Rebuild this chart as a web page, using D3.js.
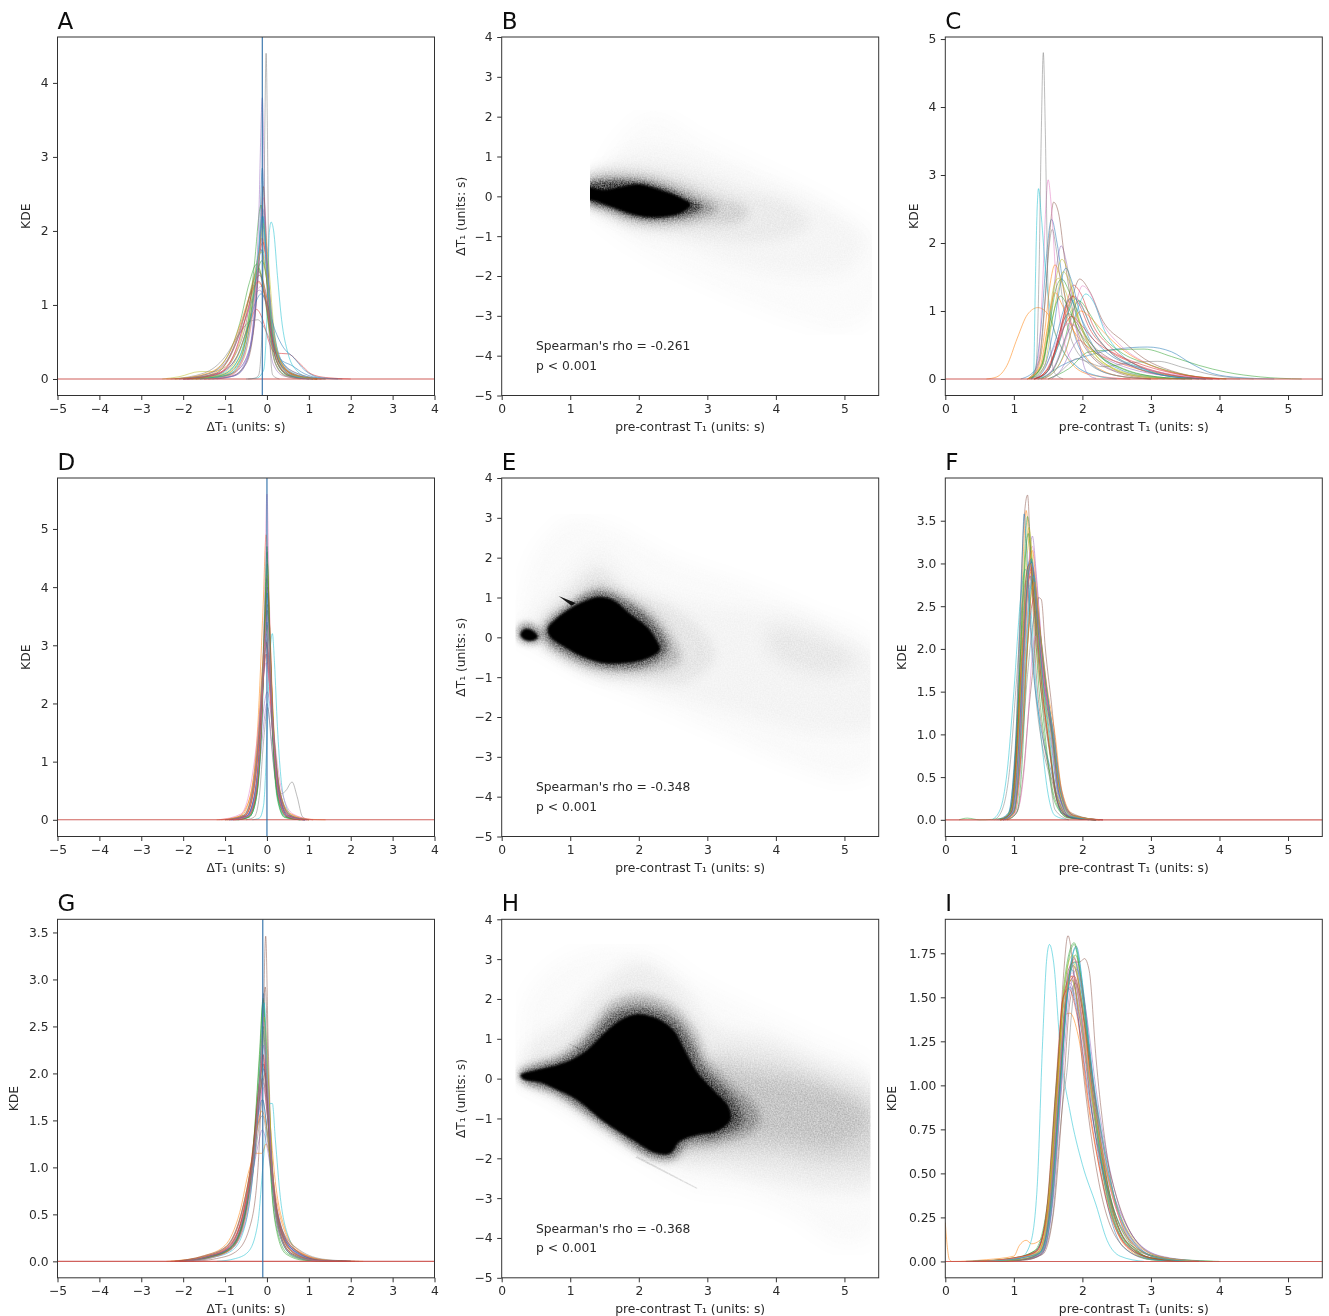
<!DOCTYPE html>
<html>
<head>
<meta charset="utf-8">
<script src="https://d3js.org/d3.v7.min.js"></script>
<style>
  html, body { margin: 0; padding: 0; background: #fff; }
  text { font-family: "DejaVu Sans", sans-serif; fill: #2a2a2a; }
</style>
</head>
<body>
<svg id="chart" width="1329" height="1316"></svg>
<script>
// tick labels
var deltaTicks = [-5, -4, -3, -2, -1, 0, 1, 2, 3, 4];
var t1Ticks = [0, 1, 2, 3, 4, 5];
var scatterYTicks = [4, 3, 2, 1, 0, -1, -2, -3, -4, -5];
var kdeTicksA = [0, 1, 2, 3, 4];
var kdeTicksC = [0, 1, 2, 3, 4, 5];
var kdeTicksD = [0, 1, 2, 3, 4, 5];
var kdeTicksF = [0, 0.5, 1, 1.5, 2, 2.5, 3, 3.5];
var kdeTicksG = [0, 0.5, 1, 1.5, 2, 2.5, 3, 3.5];
var kdeTicksI = [0, 0.25, 0.5, 0.75, 1, 1.25, 1.5, 1.75];

var tab10 = ["#1f77b4", "#ff7f0e", "#2ca02c", "#d62728", "#9467bd", "#8c564b", "#e377c2", "#7f7f7f", "#bcbd22", "#17becf"];

// KDE curves, one [x, y] list per subject. order sets the colour (tab10 cycle)
var curvesA = [
  [[-2,0],[-1.2,.02],[-.75,.1],[-.45,.35],[-.28,.9],[-.18,1.9],[-.11,2.85],[-.05,2.1],[.02,1.1],[.12,.55],[.3,.28],[.6,.18],[.9,.07],[1.3,.01],[1.8,0]],
  [[-2.4,0],[-1.5,.04],[-1,.2],[-.7,.55],[-.45,1.05],[-.3,1.35],[-.2,1.45],[-.08,1.3],[.05,.75],[.2,.3],[.45,.08],[.9,.01],[1.4,0]],
  [[-1.8,0],[-1.1,.05],[-.7,.25],[-.45,.75],[-.3,1.55],[-.14,2.35],[-.04,1.7],[.07,.7],[.2,.22],[.45,.05],[1,0]],
  [[-2,0],[-1.5,.02],[-1,.12],[-.7,.32],[-.45,.7],[-.25,.94],[-.1,.8],[.05,.5],[.2,.35],[.5,.34],[.8,.2],[1.05,.07],[1.4,.02],[2,0]],
  [[-1.4,0],[-.8,.04],[-.5,.25],[-.32,.8],[-.2,2.1],[-.11,3.8],[-.05,2.3],[.03,.8],[.15,.2],[.4,.04],[.9,0]],
  [[-2,0],[-1.2,.06],[-.8,.28],[-.5,.75],[-.3,1.4],[-.15,1.75],[-.02,1.4],[.1,.75],[.28,.25],[.55,.06],[1.1,0]],
  [[-1.6,0],[-.9,.05],[-.55,.22],[-.32,.65],[-.18,1.6],[-.08,2.45],[.02,1.6],[.12,.6],[.3,.15],[.6,.03],[1.1,0]],
  [[-.45,0],[-.3,.01],[-.2,.05],[-.12,.6],[-.08,1.8],[-.05,3.4],[-.02,4.4],[.01,3.4],[.04,1.6],[.08,.4],[.14,.05],[.3,0]],
  [[-2.5,0],[-2.1,.03],[-1.6,.1],[-1.3,.1],[-1,.16],[-.6,.6],[-.35,1.3],[-.2,1.5],[-.05,1.1],[.15,.3],[.4,.05],[.8,0]],
  [[-.5,0],[-.25,.01],[-.08,.12],[.01,1],[.06,2],[.1,2.12],[.16,2],[.25,1.4],[.35,.8],[.5,.35],[.7,.12],[1,.02],[1.4,0]],
  [[-1.3,0],[-.8,.04],[-.5,.22],[-.3,.8],[-.18,1.65],[-.1,2.2],[-.02,1.7],[.1,.75],[.25,.25],[.5,.06],[1,0]],
  [[-1.7,0],[-1,.06],[-.62,.3],[-.38,.9],[-.22,1.55],[-.12,1.9],[0,1.5],[.12,.7],[.3,.2],[.6,.04],[1.2,0]],
  [[-2.2,0],[-1.4,.07],[-.95,.3],[-.65,.75],[-.42,1.3],[-.25,1.55],[-.1,1.3],[.05,.7],[.22,.25],[.5,.05],[1.1,0]],
  [[-1.5,0],[-.9,.06],[-.58,.28],[-.35,.95],[-.2,1.6],[-.1,1.85],[0,1.55],[.13,.78],[.3,.25],[.65,.05],[1.2,0]],
  [[-2.1,0],[-1.3,.09],[-.85,.35],[-.55,.75],[-.32,1.1],[-.18,1.2],[-.04,1.05],[.12,.6],[.32,.27],[.7,.08],[1.3,0]],
  [[-1.4,0],[-.85,.04],[-.5,.2],[-.3,.75],[-.17,1.8],[-.09,2.6],[-.01,1.8],[.1,.65],[.28,.18],[.6,.03],[1.1,0]],
  [[-2,0],[-1.2,.07],[-.8,.32],[-.52,.8],[-.3,1.15],[-.13,1.25],[.02,1.05],[.18,.55],[.42,.17],[.8,.03],[1.3,0]],
  [[-2.3,0],[-1.5,.08],[-1,.3],[-.65,.62],[-.4,.78],[-.22,.8],[-.05,.68],[.15,.42],[.4,.2],[.8,.06],[1.4,0]],
  [[-1.5,0],[-.9,.05],[-.55,.28],[-.33,.95],[-.18,1.7],[-.08,2.1],[.03,1.6],[.16,.72],[.34,.22],[.7,.04],[1.2,0]],
  [[-1.6,0],[-1,.07],[-.62,.35],[-.38,1],[-.22,1.55],[-.12,1.75],[0,1.45],[.14,.75],[.32,.28],[.7,.06],[1.3,0]],
  [[-1.9,0],[-1.2,.05],[-.72,.3],[-.45,.72],[-.26,1.05],[-.14,1.15],[0,1.02],[.18,.68],[.4,.42],[.62,.3],[.9,.12],[1.25,.02],[1.7,0]],
  [[-2.2,0],[-1.4,.08],[-.9,.35],[-.6,.8],[-.36,1.2],[-.2,1.3],[-.04,1.12],[.13,.6],[.35,.2],[.75,.04],[1.3,0]],
  [[-1.7,0],[-1,.05],[-.62,.28],[-.4,.85],[-.24,1.4],[-.12,1.6],[.01,1.28],[.14,.62],[.32,.2],[.7,.04],[1.2,0]],
  [[-1.9,0],[-1.15,.08],[-.75,.38],[-.5,.85],[-.32,1.22],[-.2,1.32],[-.06,1.14],[.1,.6],[.3,.22],[.65,.06],[1.2,0]],
  [[-1.2,0],[-.7,.06],[-.45,.3],[-.28,1],[-.18,1.8],[-.1,2.3],[-.02,1.75],[.08,.7],[.22,.18],[.5,.03],[1,0]],
  [[-2,0],[-1.2,.08],[-.85,.36],[-.55,.85],[-.33,1.25],[-.18,1.4],[-.03,1.18],[.12,.62],[.32,.2],[.7,.04],[1.2,0]],
  [[-1.5,0],[-.85,.05],[-.55,.3],[-.32,.95],[-.2,1.6],[-.1,1.9],[0,1.5],[.12,.75],[.3,.24],[.62,.05],[1.1,0]],
  [[-2.1,0],[-1.3,.06],[-.88,.3],[-.6,.72],[-.38,1.2],[-.22,1.48],[-.08,1.22],[.08,.72],[.28,.3],[.6,.08],[1.2,0]],
  [[-1.8,0],[-1.1,.06],[-.7,.3],[-.42,.88],[-.25,1.5],[-.14,1.72],[-.02,1.42],[.12,.72],[.3,.26],[.66,.05],[1.2,0]],
  [[-1.6,0],[-.95,.05],[-.6,.28],[-.36,.9],[-.2,1.75],[-.11,2.2],[-.02,1.72],[.1,.8],[.28,.26],[.6,.04],[1.1,0]]
];

var curvesC = [
  [[1.1,0],[1.3,.12],[1.4,.8],[1.48,1.85],[1.55,2.35],[1.63,2],[1.74,1.25],[1.9,.6],[2.15,.2],[2.5,.05],[3,0]],
  [[.6,0],[.75,.03],[.9,.2],[1.05,.6],[1.2,.95],[1.35,1.05],[1.5,.95],[1.65,.55],[1.8,.28],[2,.1],[2.3,.03],[2.7,0]],
  [[1.5,0],[1.8,.15],[2.1,.4],[2.5,.43],[2.9,.44],[3.3,.33],[3.7,.2],[4.1,.1],[4.6,.03],[5.2,0]],
  [[1.3,0],[1.5,.12],[1.65,.6],[1.78,1.15],[1.87,1.38],[1.98,1.25],[2.15,.8],[2.4,.48],[2.8,.2],[3.3,.05],[3.9,0]],
  [[1.2,0],[1.42,.2],[1.55,1.05],[1.63,1.7],[1.69,1.96],[1.76,1.75],[1.86,1.15],[2,.6],[2.25,.25],[2.7,.06],[3.2,0]],
  [[1.2,0],[1.36,.25],[1.45,1.1],[1.52,2.1],[1.58,2.6],[1.65,2.45],[1.75,1.7],[1.88,.9],[2.08,.4],[2.5,.1],[3,0]],
  [[1.25,0],[1.35,.25],[1.42,1.4],[1.47,2.6],[1.5,2.93],[1.55,2.5],[1.62,1.4],[1.72,.6],[1.9,.2],[2.2,.05],[2.7,0]],
  [[1.24,0],[1.32,.15],[1.37,1.7],[1.4,3.6],[1.43,4.8],[1.46,3.6],[1.49,1.7],[1.54,.4],[1.6,.08],[1.72,0]],
  [[1.25,0],[1.42,.2],[1.52,.85],[1.62,1.5],[1.7,1.76],[1.8,1.55],[1.92,1],[2.1,.5],[2.4,.18],[2.8,.04],[3.3,0]],
  [[1.27,0],[1.29,.1],[1.31,1.2],[1.34,2.5],[1.36,2.8],[1.4,2.4],[1.47,1.5],[1.55,.9],[1.7,.45],[1.9,.2],[2.2,.05],[2.5,0]],
  [[1.4,0],[1.7,.2],[2.1,.35],[2.5,.44],[2.95,.47],[3.3,.4],[3.6,.22],[3.9,.08],[4.3,.02],[4.8,0]],
  [[1.2,0],[1.35,.15],[1.45,.7],[1.53,1.4],[1.6,1.68],[1.68,1.5],[1.8,.95],[1.98,.45],[2.3,.12],[2.7,.02],[3.1,0]],
  [[1.25,0],[1.42,.25],[1.53,.85],[1.62,1.35],[1.7,1.47],[1.8,1.3],[1.95,.85],[2.2,.42],[2.6,.14],[3.1,.03],[3.6,0]],
  [[1.3,0],[1.5,.12],[1.65,.55],[1.77,1],[1.87,1.22],[1.97,1.12],[2.12,.78],[2.35,.45],[2.7,.2],[3.2,.05],[3.8,0]],
  [[1.55,0],[1.7,.15],[1.85,.45],[1.95,.57],[2.05,.5],[2.3,.32],[2.7,.15],[3.2,.05],[3.8,0]],
  [[1.3,0],[1.5,.15],[1.7,.65],[1.85,1.2],[1.96,1.47],[2.1,1.3],[2.3,.85],[2.6,.55],[2.9,.3],[3.3,.12],[3.8,.02],[4.3,0]],
  [[1.35,0],[1.55,.12],[1.75,.55],[1.9,1.1],[2,1.37],[2.12,1.25],[2.28,.85],[2.55,.5],[2.9,.25],[3.4,.07],[4,0]],
  [[1.25,0],[1.38,.3],[1.46,1.2],[1.52,2],[1.56,2.2],[1.62,1.9],[1.72,1.1],[1.85,.55],[2.1,.22],[2.5,.05],[3,0]],
  [[1.2,0],[1.4,.2],[1.5,.8],[1.58,1.35],[1.65,1.48],[1.75,1.3],[1.9,.82],[2.1,.42],[2.45,.15],[2.9,.03],[3.4,0]],
  [[1.4,0],[1.6,.12],[1.78,.5],[1.92,1],[2.05,1.25],[2.17,1.12],[2.32,.72],[2.55,.38],[2.9,.15],[3.4,.03],[3.9,0]],
  [[1.25,0],[1.45,.2],[1.58,.75],[1.68,1.4],[1.76,1.63],[1.84,1.45],[1.98,.9],[2.2,.42],[2.55,.14],[3,.03],[3.5,0]],
  [[1.2,0],[1.38,.18],[1.48,.7],[1.55,1.12],[1.6,1.27],[1.7,1.1],[1.85,.75],[2.1,.45],[2.5,.25],[3,.1],[3.7,0]],
  [[1.35,0],[1.55,.1],[1.72,.5],[1.86,1],[1.95,1.15],[2.08,1],[2.28,.65],[2.55,.4],[2.95,.22],[3.5,.06],[4.1,0]],
  [[1.3,0],[1.5,.15],[1.65,.6],[1.78,1.1],[1.85,1.22],[1.95,1.1],[2.1,.75],[2.35,.45],[2.7,.25],[3.2,.08],[3.8,0]],
  [[1.45,0],[1.6,.2],[1.75,.6],[1.88,.8],[1.95,.55],[2.02,.2],[2.1,.05],[2.2,.01]],
  [[1.3,0],[1.5,.12],[1.62,.5],[1.72,.85],[1.8,.96],[1.9,.85],[2.1,.55],[2.4,.3],[2.8,.18],[3.3,.06],[3.9,0]],
  [[1.25,0],[1.42,.12],[1.56,.4],[1.7,.72],[1.82,.82],[1.95,.7],[2.15,.45],[2.45,.27],[2.95,.14],[3.5,.04],[4,0]],
  [[1.5,0],[1.65,.08],[1.8,.22],[1.92,.3],[2.05,.26],[2.3,.18],[2.7,.24],[3.1,.26],[3.5,.16],[3.95,.05],[4.5,0]],
  [[1.28,0],[1.45,.2],[1.55,.8],[1.65,1.32],[1.72,1.58],[1.82,1.4],[1.95,.85],[2.15,.42],[2.5,.14],[3,.03],[3.5,0]],
  [[1.35,0],[1.5,.12],[1.65,.5],[1.8,1],[1.9,1.18],[2,1.05],[2.15,.72],[2.4,.4],[2.8,.18],[3.2,.05],[3.8,0]],
  [[1.3,0],[1.45,.15],[1.6,.55],[1.74,1.05],[1.82,1.18],[1.92,1.02],[2.08,.7],[2.32,.42],[2.7,.2],[3.15,.06],[3.7,0]],
  [[1.4,0],[1.58,.1],[1.76,.42],[1.9,.9],[1.98,1],[2.1,.92],[2.3,.7],[2.6,.42],[3,.2],[3.5,.06],[4.1,0]],
  [[1.22,0],[1.4,.18],[1.52,.7],[1.62,1.12],[1.68,1.22],[1.78,1.08],[1.94,.72],[2.2,.38],[2.6,.15],[3.1,.03],[3.6,0]],
  [[1.3,0],[1.48,.14],[1.62,.46],[1.74,.78],[1.84,.92],[1.96,.82],[2.16,.58],[2.5,.36],[2.9,.2],[3.4,.07],[4,0]]
];

var curvesD = [
  [[-.9,0],[-.5,.06],[-.3,.4],[-.15,1.6],[-.06,3.4],[0,4.15],[.06,3.2],[.15,1.4],[.3,.32],[.5,.05],[.9,0]],
  [[-1.2,0],[-.7,.05],[-.42,.35],[-.22,1.6],[-.09,3.7],[-.02,4.9],[.05,3.7],[.16,1.6],[.32,.42],[.55,.1],[1,.01],[1.4,0]],
  [[-.7,0],[-.42,.05],[-.25,.4],[-.13,1.7],[-.05,3.7],[0,4.7],[.05,3.6],[.13,1.6],[.25,.35],[.42,.04],[.8,0]],
  [[-.95,0],[-.52,.07],[-.32,.5],[-.18,1.55],[-.08,2.75],[-.03,3.1],[.03,2.65],[.14,1.4],[.3,.35],[.5,.05],[.9,0]],
  [[-.8,0],[-.48,.05],[-.28,.35],[-.15,1.1],[-.06,1.75],[0,2],[.06,1.72],[.16,.95],[.32,.25],[.55,.03],[.9,0]],
  [[-.8,0],[-.48,.06],[-.28,.42],[-.14,1.55],[-.05,3.05],[.01,3.7],[.07,2.95],[.16,1.4],[.3,.35],[.5,.06],[.9,0]],
  [[-.85,0],[-.5,.05],[-.3,.32],[-.16,1.25],[-.06,3.7],[0,5.6],[.06,3.7],[.16,1.3],[.3,.3],[.52,.05],[.9,0]],
  [[-.5,0],[-.3,.05],[-.18,.42],[-.08,1.35],[.02,1.93],[.1,1.35],[.2,.7],[.35,.45],[.45,.5],[.6,.65],[.72,.4],[.85,.05],[1,0]],
  [[-1,0],[-.55,.08],[-.35,.5],[-.2,1.45],[-.08,2.9],[0,3.35],[.08,2.75],[.18,1.4],[.34,.4],[.56,.08],[1,0]],
  [[-.35,0],[-.18,.03],[-.08,.25],[-.01,1.2],[.06,2.7],[.13,3.2],[.18,2.7],[.25,1.6],[.33,.75],[.45,.25],[.62,.05],[.9,0]],
  [[-.85,0],[-.5,.06],[-.3,.38],[-.16,1.4],[-.06,3.1],[0,3.9],[.06,3.05],[.15,1.38],[.3,.34],[.5,.06],[.9,0]],
  [[-1.1,0],[-.6,.08],[-.38,.48],[-.22,1.4],[-.1,2.7],[-.02,3.3],[.05,2.7],[.16,1.45],[.32,.45],[.58,.1],[1.1,0]],
  [[-.75,0],[-.44,.05],[-.26,.4],[-.14,1.5],[-.05,3.4],[.01,4.4],[.06,3.4],[.14,1.5],[.27,.36],[.46,.05],[.8,0]],
  [[-1,0],[-.55,.07],[-.34,.48],[-.19,1.42],[-.08,2.45],[-.02,2.85],[.05,2.4],[.15,1.4],[.3,.42],[.52,.07],[.95,0]],
  [[-.9,0],[-.5,.06],[-.3,.42],[-.16,1.3],[-.07,1.95],[.01,2.2],[.08,1.9],[.18,1.1],[.34,.32],[.55,.05],[.95,0]],
  [[-.8,0],[-.46,.06],[-.27,.42],[-.14,1.6],[-.05,3],[.01,3.6],[.07,2.95],[.16,1.5],[.3,.42],[.5,.08],[.9,0]],
  [[-1.15,0],[-.62,.1],[-.4,.55],[-.24,1.35],[-.1,2.35],[-.02,2.7],[.06,2.35],[.18,1.4],[.36,.48],[.62,.1],[1.1,0]],
  [[-.75,0],[-.45,.06],[-.28,.45],[-.15,1.55],[-.06,3],[0,3.6],[.06,3],[.15,1.55],[.28,.45],[.46,.08],[.85,0]],
  [[-.95,0],[-.52,.08],[-.33,.5],[-.18,1.45],[-.07,2.85],[0,3.35],[.07,2.8],[.17,1.45],[.32,.45],[.55,.08],[1,0]],
  [[-.7,0],[-.42,.05],[-.25,.38],[-.13,1.45],[-.05,3.1],[.01,3.9],[.06,3.1],[.14,1.45],[.26,.36],[.44,.05],[.8,0]],
  [[-.85,0],[-.48,.06],[-.3,.42],[-.16,1.4],[-.06,2.8],[0,3.4],[.06,2.8],[.16,1.4],[.3,.4],[.5,.06],[.9,0]],
  [[-.8,0],[-.46,.05],[-.27,.36],[-.15,1.3],[-.05,3.2],[.01,4.2],[.07,3.2],[.16,1.3],[.29,.34],[.48,.05],[.85,0]],
  [[-.7,0],[-.42,.05],[-.25,.4],[-.13,1.6],[-.05,3.5],[0,4.6],[.05,3.5],[.13,1.6],[.25,.4],[.42,.05],[.8,0]],
  [[-.9,0],[-.52,.07],[-.32,.46],[-.18,1.38],[-.07,2.6],[-.01,3.05],[.06,2.6],[.17,1.38],[.32,.42],[.55,.07],[1,0]],
  [[-.9,0],[-.54,.08],[-.34,.52],[-.2,1.4],[-.09,2.7],[-.02,3.2],[.05,2.7],[.16,1.42],[.31,.44],[.54,.08],[.95,0]],
  [[-.75,0],[-.44,.06],[-.26,.44],[-.14,1.58],[-.05,3.3],[.01,4],[.07,3.2],[.15,1.5],[.28,.4],[.46,.06],[.85,0]],
  [[-.8,0],[-.46,.06],[-.28,.42],[-.15,1.48],[-.06,2.95],[0,3.5],[.06,2.95],[.15,1.5],[.28,.42],[.47,.07],[.85,0]],
  [[-1,0],[-.56,.08],[-.35,.5],[-.2,1.46],[-.08,2.6],[-.01,3],[.06,2.55],[.17,1.42],[.33,.44],[.56,.08],[1,0]]
];

var curvesF = [
  [[.75,0],[.92,.08],[1.02,.75],[1.1,1.9],[1.18,2.85],[1.25,3.05],[1.32,2.5],[1.42,1.5],[1.54,.72],[1.66,.15],[1.85,.02],[2.2,0]],
  [[.8,0],[.96,.1],[1.04,.8],[1.1,2.2],[1.15,3.3],[1.18,3.62],[1.24,3],[1.34,1.9],[1.48,1.1],[1.62,.3],[1.8,.03],[2.2,0]],
  [[.2,0],[.32,.02],[.5,0],[.85,.02],[.98,.2],[1.06,1.2],[1.14,2.8],[1.2,3.55],[1.26,3],[1.36,1.6],[1.48,.75],[1.6,.2],[1.8,.02],[2.2,0]],
  [[.8,0],[.94,.08],[1.03,.7],[1.12,1.9],[1.2,2.7],[1.26,2.95],[1.33,2.45],[1.44,1.65],[1.56,1],[1.66,.3],[1.82,.03],[2.3,0]],
  [[.85,0],[1,.08],[1.08,.75],[1.16,2.1],[1.23,3.1],[1.27,3.32],[1.33,2.85],[1.42,1.9],[1.54,1.15],[1.66,.38],[1.82,.08],[1.98,.02],[2.3,0]],
  [[.8,0],[.94,.06],[1.02,.75],[1.08,2.2],[1.14,3.4],[1.2,3.8],[1.24,3.2],[1.32,1.8],[1.42,1],[1.56,.45],[1.72,.06],[2.1,0]],
  [[.85,0],[.98,.08],[1.07,.7],[1.15,2],[1.22,3],[1.27,3.2],[1.33,2.8],[1.42,1.9],[1.53,1.1],[1.65,.32],[1.85,.03],[2.2,0]],
  [[.85,0],[1,.1],[1.1,.7],[1.2,1.7],[1.28,2.3],[1.33,2.45],[1.4,2.1],[1.5,1.4],[1.6,.75],[1.7,.2],[1.88,.03],[2.3,0]],
  [[.8,0],[.96,.08],[1.04,.7],[1.12,2.2],[1.18,3.2],[1.22,3.42],[1.28,2.95],[1.38,1.8],[1.5,.95],[1.62,.25],[1.8,.03],[2.2,0]],
  [[.68,0],[.8,.12],[.9,.55],[1,1.5],[1.1,2.6],[1.17,2.93],[1.24,2.55],[1.32,1.6],[1.42,.8],[1.5,.3],[1.6,.05],[1.8,0]],
  [[.85,0],[1,.08],[1.08,.7],[1.15,2],[1.22,2.9],[1.26,3.06],[1.32,2.65],[1.42,1.65],[1.54,.92],[1.64,.3],[1.8,.03],[2.2,0]],
  [[.82,0],[.98,.1],[1.06,.75],[1.14,1.95],[1.21,2.75],[1.25,2.9],[1.32,2.45],[1.44,1.65],[1.56,.95],[1.67,.35],[1.85,.04],[2.25,0]],
  [[.8,0],[.94,.08],[1.02,.72],[1.1,2],[1.17,3.1],[1.21,3.35],[1.27,2.85],[1.37,1.75],[1.48,.82],[1.6,.24],[1.78,.03],[2.2,0]],
  [[.85,0],[1,.1],[1.1,.75],[1.18,1.85],[1.26,2.5],[1.3,2.6],[1.36,2.3],[1.46,1.55],[1.58,1],[1.68,.32],[1.85,.05],[2.3,0]],
  [[.88,0],[1.02,.08],[1.1,.6],[1.17,1.65],[1.24,2.7],[1.28,2.95],[1.34,2.55],[1.44,1.7],[1.56,1],[1.66,.3],[1.85,.06],[2.2,0]],
  [[.9,0],[1.05,.1],[1.14,.55],[1.22,1.3],[1.3,1.95],[1.36,2.6],[1.4,2.58],[1.46,2],[1.55,1.35],[1.66,.5],[1.8,.1],[2.2,0]],
  [[.9,0],[1.05,.1],[1.14,.5],[1.2,1.1],[1.26,1.85],[1.31,2.15],[1.36,1.95],[1.44,1.55],[1.54,1.2],[1.66,.45],[1.85,.06],[2.2,0]],
  [[.72,0],[.84,.14],[.94,.6],[1.04,1.65],[1.12,2.5],[1.18,2.8],[1.24,2.35],[1.32,1.45],[1.42,.85],[1.52,.5],[1.6,.12],[1.8,0]],
  [[.82,0],[.97,.08],[1.05,.7],[1.13,2],[1.19,3.05],[1.23,3.3],[1.29,2.75],[1.38,1.85],[1.5,1.08],[1.62,.32],[1.82,.04],[2.2,0]],
  [[.85,0],[.98,.08],[1.06,.72],[1.14,2],[1.2,2.9],[1.25,3.05],[1.31,2.55],[1.4,1.7],[1.52,.95],[1.62,.26],[1.8,.03],[2.2,0]],
  [[.78,0],[.93,.08],[1,.6],[1.07,1.7],[1.12,3],[1.15,3.58],[1.19,3.1],[1.26,2],[1.38,1.15],[1.55,.55],[1.7,.08],[2.1,0]],
  [[.85,0],[1,.08],[1.08,.72],[1.16,2],[1.22,2.95],[1.27,3.15],[1.33,2.7],[1.43,1.8],[1.55,1.12],[1.67,.35],[1.85,.05],[2.2,0]],
  [[.9,0],[1.04,.08],[1.12,.65],[1.18,1.7],[1.25,2.65],[1.29,2.82],[1.35,2.4],[1.45,1.7],[1.56,1.05],[1.68,.36],[1.85,.06],[2.25,0]],
  [[.8,0],[.96,.08],[1.04,.75],[1.12,2],[1.2,2.95],[1.24,3],[1.3,2.55],[1.41,1.55],[1.52,.85],[1.63,.22],[1.8,.03],[2.2,0]],
  [[.85,0],[.98,.1],[1.07,.75],[1.14,1.95],[1.21,2.85],[1.26,2.98],[1.32,2.6],[1.42,1.72],[1.54,1.02],[1.65,.3],[1.82,.04],[2.2,0]],
  [[.82,0],[.96,.08],[1.04,.7],[1.12,1.85],[1.19,2.7],[1.24,2.85],[1.3,2.45],[1.4,1.5],[1.52,.8],[1.64,.25],[1.82,.03],[2.2,0]],
  [[.84,0],[.98,.1],[1.06,.72],[1.14,1.9],[1.21,2.8],[1.26,3],[1.33,2.5],[1.44,1.68],[1.57,1.05],[1.68,.38],[1.85,.05],[2.25,0]],
  [[.86,0],[1,.1],[1.08,.7],[1.16,1.85],[1.23,2.75],[1.28,2.92],[1.35,2.42],[1.46,1.62],[1.58,1],[1.7,.34],[1.86,.05],[2.25,0]],
  [[.8,0],[.96,.1],[1.05,.75],[1.13,2],[1.2,2.85],[1.25,3],[1.31,2.55],[1.42,1.6],[1.55,.98],[1.66,.34],[1.84,.04],[2.2,0]],
  [[.85,0],[1,.1],[1.09,.72],[1.17,1.88],[1.24,2.7],[1.29,2.86],[1.36,2.36],[1.47,1.6],[1.58,.98],[1.69,.3],[1.84,.04],[2.2,0]],
  [[.82,0],[.97,.1],[1.06,.74],[1.14,1.96],[1.2,2.8],[1.26,3.02],[1.32,2.52],[1.43,1.6],[1.56,.98],[1.66,.3],[1.83,.03],[2.2,0]],
  [[.88,0],[1.02,.1],[1.1,.72],[1.18,1.8],[1.25,2.6],[1.3,2.78],[1.37,2.3],[1.48,1.58],[1.6,1],[1.7,.34],[1.88,.05],[2.25,0]]
];

var curvesG = [
  [[-2.2,0],[-1.4,.04],[-.85,.13],[-.5,.55],[-.3,1.25],[-.16,2.15],[-.08,2.85],[-.01,2.1],[.12,1],[.32,.4],[.62,.12],[1.1,.02],[1.8,0]],
  [[-2.4,0],[-1.5,.05],[-1,.14],[-.62,.5],[-.4,.98],[-.24,1.55],[-.03,2],[.06,1.55],[.2,.85],[.42,.36],[.75,.12],[1.3,.02],[2,0]],
  [[-2.1,0],[-1.4,.05],[-.9,.14],[-.54,.5],[-.32,1.25],[-.18,2.2],[-.09,2.8],[-.02,2.1],[.08,1],[.22,.35],[.45,.08],[.9,.01],[1.6,0]],
  [[-2.2,0],[-1.5,.04],[-.95,.14],[-.58,.5],[-.36,1.1],[-.2,1.8],[-.1,2.2],[-.01,1.7],[.12,.9],[.3,.32],[.6,.08],[1.1,.01],[1.7,0]],
  [[-2,0],[-1.4,.05],[-.9,.12],[-.52,.4],[-.32,1],[-.18,1.85],[-.09,2.45],[-.01,1.9],[.12,.85],[.32,.25],[.65,.05],[1.2,0]],
  [[-1.8,0],[-1.2,.03],[-.75,.1],[-.42,.35],[-.22,.95],[-.1,2.3],[-.03,3.46],[.03,2.3],[.14,.85],[.3,.3],[.6,.08],[1.2,.01],[1.9,0]],
  [[-2,0],[-1.3,.05],[-.85,.14],[-.52,.45],[-.32,.98],[-.19,1.55],[-.08,1.9],[.02,1.5],[.16,.8],[.36,.28],[.72,.08],[1.3,.01],[2,0]],
  [[-2.1,0],[-1.4,.06],[-.9,.16],[-.56,.5],[-.34,.95],[-.2,1.4],[-.1,1.72],[0,1.4],[.14,.82],[.36,.32],[.72,.1],[1.3,.01],[2,0]],
  [[-2,0],[-1.3,.05],[-.85,.13],[-.52,.45],[-.3,1.1],[-.14,2],[-.05,2.5],[.03,1.95],[.14,.95],[.34,.32],[.68,.08],[1.2,.01],[1.9,0]],
  [[-1.2,0],[-.75,.03],[-.45,.1],[-.22,.4],[-.08,1.1],[.02,1.55],[.08,1.68],[.13,1.68],[.2,1.3],[.32,.68],[.5,.28],[.8,.08],[1.4,.01],[2,0]],
  [[-2.1,0],[-1.4,.05],[-.88,.14],[-.55,.48],[-.34,1.05],[-.2,1.58],[-.11,1.72],[0,1.42],[.14,.78],[.34,.32],[.7,.1],[1.3,.01],[2,0]],
  [[-2.3,0],[-1.5,.06],[-1,.17],[-.65,.52],[-.42,.98],[-.26,1.15],[-.12,1.15],[-.02,1.25],[.06,1.15],[.2,.72],[.44,.3],[.85,.08],[1.5,.01],[2.3,0]],
  [[-1.9,0],[-1.3,.05],[-.85,.14],[-.52,.48],[-.32,1.25],[-.17,2.2],[-.09,2.78],[-.02,2.2],[.08,1.05],[.24,.34],[.5,.08],[1,.01],[1.6,0]],
  [[-2,0],[-1.35,.04],[-.88,.13],[-.54,.46],[-.34,1.1],[-.18,1.9],[-.08,2.1],[.02,1.68],[.15,.88],[.32,.32],[.66,.08],[1.2,.01],[1.9,0]],
  [[-2.1,0],[-1.5,.05],[-1,.13],[-.6,.44],[-.38,.85],[-.22,1.22],[-.11,1.4],[.01,1.2],[.16,.75],[.38,.32],[.76,.1],[1.4,.01],[2.1,0]],
  [[-2,0],[-1.4,.05],[-.9,.14],[-.54,.48],[-.32,1.1],[-.16,1.95],[-.04,2.92],[.03,2],[.12,1],[.3,.32],[.6,.08],[1.1,.01],[1.8,0]],
  [[-2.2,0],[-1.5,.05],[-.95,.15],[-.6,.5],[-.36,1],[-.2,1.6],[-.09,1.85],[.02,1.5],[.16,.84],[.36,.32],[.72,.1],[1.3,.01],[2,0]],
  [[-2.3,0],[-1.6,.04],[-1,.15],[-.62,.5],[-.38,1],[-.22,1.45],[-.1,1.55],[0,1.32],[.14,.8],[.36,.34],[.78,.12],[1.4,.02],[2.2,0]],
  [[-2,0],[-1.3,.04],[-.86,.14],[-.52,.5],[-.3,1.22],[-.15,2.05],[-.06,2.6],[.02,2.02],[.14,.95],[.32,.34],[.65,.08],[1.2,.01],[1.8,0]],
  [[-1.9,0],[-1.3,.04],[-.82,.12],[-.5,.42],[-.3,1.1],[-.15,2.1],[-.07,2.75],[0,2.1],[.1,1.05],[.28,.34],[.56,.08],[1.1,.01],[1.7,0]],
  [[-2.1,0],[-1.4,.05],[-.88,.14],[-.54,.46],[-.32,1.02],[-.18,1.7],[-.08,2.05],[.02,1.65],[.15,.85],[.36,.3],[.72,.09],[1.3,.01],[2,0]],
  [[-2.2,0],[-1.5,.05],[-.95,.15],[-.6,.46],[-.38,.96],[-.24,1.4],[-.12,1.6],[0,1.4],[.15,.8],[.36,.32],[.76,.1],[1.4,.01],[2.1,0]],
  [[-2,0],[-1.35,.05],[-.88,.14],[-.53,.5],[-.3,1.2],[-.17,2],[-.09,2.5],[-.01,1.9],[.1,1],[.28,.34],[.56,.08],[1.1,.01],[1.8,0]],
  [[-2.1,0],[-1.4,.05],[-.9,.15],[-.56,.52],[-.34,1.1],[-.19,1.8],[-.09,2.2],[0,1.75],[.13,.9],[.32,.34],[.66,.09],[1.2,.01],[1.9,0]],
  [[-2,0],[-1.4,.05],[-.9,.15],[-.55,.5],[-.33,1.12],[-.18,1.85],[-.08,2.3],[.01,1.8],[.14,.9],[.34,.32],[.68,.09],[1.2,.01],[1.9,0]],
  [[-2.2,0],[-1.5,.06],[-.96,.16],[-.6,.52],[-.37,1.05],[-.21,1.62],[-.1,1.95],[.01,1.55],[.15,.82],[.36,.33],[.74,.1],[1.3,.01],[2,0]],
  [[-1.9,0],[-1.3,.04],[-.84,.13],[-.51,.46],[-.3,1.16],[-.16,2],[-.08,2.55],[0,2],[.11,1],[.28,.33],[.58,.08],[1.1,.01],[1.7,0]],
  [[-2,0],[-1.4,.05],[-.9,.14],[-.56,.48],[-.34,1.04],[-.2,1.72],[-.1,2.1],[0,1.7],[.13,.88],[.33,.3],[.66,.08],[1.2,.01],[1.9,0]]
];

var curvesI = [
  [[.3,0],[.9,.01],[1.3,.05],[1.5,.3],[1.62,.95],[1.74,1.5],[1.84,1.66],[1.96,1.45],[2.14,.85],[2.36,.33],[2.6,.08],[3,.01],[3.6,0]],
  [[0,.22],[.03,.08],[.06,.01],[.1,0],[.6,.01],[1,.03],[1.08,.09],[1.18,.12],[1.26,.1],[1.38,.12],[1.5,.3],[1.62,.85],[1.74,1.4],[1.82,1.41],[1.94,1.28],[2.12,.8],[2.34,.38],[2.6,.1],[3,.01],[3.6,0]],
  [[.3,0],[.9,.01],[1.3,.06],[1.48,.3],[1.62,1.02],[1.74,1.6],[1.88,1.81],[2,1.55],[2.16,.9],[2.4,.3],[2.7,.08],[3.2,.02],[3.9,0]],
  [[.4,0],[1,.02],[1.32,.06],[1.5,.3],[1.62,.9],[1.72,1.5],[1.84,1.62],[1.96,1.38],[2.14,.85],[2.38,.35],[2.66,.08],[3.1,.01],[3.7,0]],
  [[.5,0],[1,.01],[1.32,.04],[1.52,.3],[1.66,.95],[1.78,1.5],[1.88,1.72],[2,1.5],[2.18,.96],[2.42,.42],[2.7,.14],[3.05,.03],[3.6,0]],
  [[.6,0],[1.1,.01],[1.4,.05],[1.54,.36],[1.64,1.05],[1.72,1.6],[1.79,1.85],[1.88,1.62],[2.02,1.05],[2.24,.45],[2.52,.12],[2.9,.02],[3.4,0]],
  [[.6,0],[1.1,.01],[1.38,.05],[1.54,.33],[1.68,1],[1.78,1.6],[1.88,1.73],[1.98,1.5],[2.14,1],[2.36,.42],[2.64,.12],[3,.02],[3.5,0]],
  [[.6,0],[1.1,.02],[1.38,.06],[1.54,.3],[1.66,.95],[1.76,1.5],[1.84,1.6],[1.96,1.42],[2.14,.9],[2.38,.38],[2.66,.1],[3,.02],[3.6,0]],
  [[.5,0],[1.05,.02],[1.36,.06],[1.52,.3],[1.66,.98],[1.78,1.55],[1.86,1.7],[1.98,1.5],[2.14,.95],[2.36,.38],[2.64,.1],[3,.01],[3.5,0]],
  [[.8,0],[1.1,.02],[1.24,.1],[1.34,.42],[1.42,1.25],[1.48,1.72],[1.52,1.8],[1.58,1.7],[1.68,1.2],[1.82,.85],[2,.55],[2.2,.32],[2.36,.12],[2.55,.03],[2.9,0]],
  [[.7,0],[1.1,.01],[1.4,.04],[1.56,.33],[1.68,1.02],[1.8,1.6],[1.91,1.79],[2.02,1.52],[2.18,.95],[2.4,.38],[2.66,.1],[3.05,.01],[3.6,0]],
  [[.6,0],[1.1,.02],[1.36,.05],[1.52,.3],[1.66,1],[1.76,1.5],[1.86,1.68],[1.98,1.5],[2.14,1],[2.36,.45],[2.64,.14],[3.1,.02],[3.7,0]],
  [[.4,0],[1,.02],[1.34,.07],[1.5,.36],[1.62,1],[1.74,1.55],[1.88,1.8],[1.98,1.58],[2.14,.98],[2.38,.38],[2.68,.1],[3.2,.02],[4,0]],
  [[.6,0],[1.1,.01],[1.4,.05],[1.54,.32],[1.66,.9],[1.76,1.5],[1.88,1.62],[2,1.42],[2.16,.92],[2.38,.4],[2.62,.12],[3,.02],[3.5,0]],
  [[.3,0],[.9,.01],[1.3,.05],[1.5,.28],[1.62,.85],[1.74,1.4],[1.82,1.58],[1.94,1.42],[2.12,1],[2.38,.48],[2.68,.18],[3.05,.04],[3.6,0]],
  [[.7,0],[1.2,.01],[1.42,.05],[1.56,.34],[1.7,1.05],[1.79,1.65],[1.88,1.7],[1.96,1.7],[2.03,1.72],[2.1,1.65],[2.2,1.15],[2.4,.5],[2.65,.14],[3,.02],[3.5,0]],
  [[.6,0],[1.1,.01],[1.4,.05],[1.54,.3],[1.66,.85],[1.76,1.4],[1.88,1.72],[2,1.55],[2.14,1.05],[2.36,.5],[2.62,.18],[3,.03],[3.6,0]],
  [[.8,0],[1.2,.01],[1.4,.04],[1.56,.24],[1.66,.68],[1.72,.92],[1.78,1.1],[1.84,1.4],[1.9,1.6],[1.98,1.42],[2.14,.92],[2.36,.4],[2.62,.12],[3,.02],[3.5,0]],
  [[.5,0],[1,.02],[1.34,.05],[1.5,.28],[1.62,.9],[1.74,1.58],[1.86,1.74],[1.98,1.5],[2.14,.95],[2.36,.42],[2.62,.12],[3,.02],[3.6,0]],
  [[.7,0],[1.1,.01],[1.4,.05],[1.56,.34],[1.7,1.1],[1.8,1.58],[1.9,1.78],[2,1.58],[2.14,1],[2.34,.42],[2.6,.12],[3,.01],[3.5,0]],
  [[.6,0],[1.1,.02],[1.38,.05],[1.52,.3],[1.64,.9],[1.74,1.42],[1.82,1.56],[1.92,1.42],[2.08,.98],[2.32,.48],[2.62,.16],[3.1,.02],[3.7,0]],
  [[.5,0],[1.05,.02],[1.34,.06],[1.5,.33],[1.62,.95],[1.74,1.52],[1.86,1.62],[1.98,1.42],[2.16,.92],[2.42,.4],[2.7,.12],[3.1,.02],[3.6,0]],
  [[.6,0],[1.1,.01],[1.38,.05],[1.54,.33],[1.68,1.05],[1.8,1.6],[1.9,1.74],[2,1.55],[2.16,.98],[2.38,.42],[2.66,.12],[3,.02],[3.6,0]],
  [[.5,0],[1,.02],[1.34,.06],[1.48,.3],[1.6,.92],[1.72,1.5],[1.8,1.55],[1.92,1.4],[2.1,.88],[2.34,.36],[2.62,.1],[3,.02],[3.5,0]],
  [[.6,0],[1.1,.01],[1.4,.04],[1.56,.3],[1.7,1],[1.82,1.54],[1.92,1.66],[2.04,1.45],[2.22,.92],[2.46,.42],[2.74,.14],[3.15,.03],[3.8,0]],
  [[.7,0],[1.15,.01],[1.42,.04],[1.58,.28],[1.72,.95],[1.82,1.48],[1.9,1.58],[2.02,1.38],[2.2,.9],[2.46,.42],[2.74,.14],[3.1,.03],[3.7,0]],
  [[.5,0],[1.05,.02],[1.36,.05],[1.52,.3],[1.64,.92],[1.76,1.5],[1.85,1.64],[1.97,1.44],[2.15,.94],[2.4,.42],[2.7,.14],[3.1,.03],[3.7,0]],
  [[.6,0],[1.1,.01],[1.38,.05],[1.53,.32],[1.67,.98],[1.78,1.52],[1.87,1.68],[1.99,1.48],[2.17,.96],[2.42,.44],[2.7,.14],[3.1,.02],[3.6,0]],
  [[.5,0],[1.05,.01],[1.36,.05],[1.5,.3],[1.63,.94],[1.74,1.46],[1.84,1.6],[1.96,1.4],[2.14,.94],[2.4,.44],[2.7,.15],[3.1,.03],[3.7,0]],
  [[.6,0],[1.1,.02],[1.38,.05],[1.54,.32],[1.68,1],[1.8,1.58],[1.89,1.7],[2,1.5],[2.18,.98],[2.42,.44],[2.7,.13],[3.1,.02],[3.6,0]]
];

// grey density bands of the scatter panels, [x, y] outlines, outer band first
var bandsB = [
  { op: .015, blur: 9, pts: [[1.32,.3],[1.7,1.5],[2.2,2.1],[3,1.4],[4,.6],[5,-.3],[5.5,-1],[5.5,-2.8],[5,-3.4],[4.4,-3.2],[3.6,-2.7],[2.8,-2.1],[2.1,-1.5],[1.5,-.8],[1.2,-.3]] },
  { op: .025, blur: 8, pts: [[1.32,.35],[1.7,1],[2.2,1.25],[2.8,1],[3.6,.5],[4.4,0],[5,-.6],[5.3,-1.2],[5,-1.9],[4.2,-2],[3.4,-1.7],[2.6,-1.2],[2,-.95],[1.6,-.6],[1.2,-.25]] },
  { op: .04, blur: 6, pts: [[1.2,.6],[2,.8],[2.8,.55],[3.5,.15],[4.2,-.2],[4.5,-.7],[4,-1.1],[3.2,-1.1],[2.5,-.95],[1.9,-.8],[1.5,-.5],[1.2,-.2]] },
  { op: .1, blur: 5, pts: [[1.2,.5],[1.9,.62],[2.5,.42],[3.1,.02],[3.6,-.33],[3.5,-.62],[2.9,-.72],[2.3,-.78],[1.8,-.65],[1.45,-.35],[1.2,-.15]] },
  { op: .28, blur: 4, pts: [[1.2,.34],[1.9,.46],[2.4,.28],[2.9,-.06],[3.15,-.3],[2.95,-.48],[2.5,-.62],[2,-.6],[1.6,-.38],[1.2,-.12]] },
  { op: .5, blur: 2.5, pts: [[1.2,.26],[1.9,.38],[2.35,.22],[2.7,-.06],[2.92,-.26],[2.7,-.47],[2.25,-.58],[1.9,-.5],[1.6,-.32],[1.2,-.06]] },
  { op: 1, blur: 1.2, pts: [[1.2,.22],[1.5,.17],[1.75,.25],[2,.31],[2.3,.17],[2.6,-.02],[2.76,-.2],[2.6,-.43],[2.2,-.53],[1.9,-.45],[1.6,-.27],[1.4,-.14],[1.2,-.03]] }
];

var bandsE = [
  { op: .018, blur: 9, pts: [[.25,.8],[.5,2.2],[1,3],[1.6,2.8],[2.5,2],[3.5,1.4],[4.5,.7],[5.5,-.2],[5.5,-3.2],[5,-3.6],[4.2,-3.2],[3.4,-2.6],[2.6,-2],[1.8,-1.4],[1.1,-.9],[.5,-.3],[.2,0]] },
  { op: .025, blur: 8, pts: [[.5,.7],[.8,1.3],[1.4,2.2],[2,1.4],[2.8,.9],[3.6,.7],[4.3,.6],[5,0],[5.5,-.6],[5.5,-2.2],[4.6,-2.4],[3.6,-2],[2.8,-1.6],[2,-1.2],[1.4,-1],[.9,-.6],[.5,-.15],[.2,.1]] },
  { op: .05, blur: 9, pts: [[3.9,.2],[4.4,.1],[4.9,-.25],[5.2,-.6],[4.8,-.9],[4.2,-.7],[3.9,-.3]] },
  { op: .06, blur: 6, pts: [[.6,.5],[1,1.2],[1.4,1.7],[1.8,1.2],[2.4,.8],[2.9,.2],[3.1,-.5],[2.7,-1.1],[2,-1.1],[1.4,-1],[.9,-.55],[.55,-.1]] },
  { op: .2, blur: 5, pts: [[.6,.3],[1,.85],[1.4,1.28],[1.85,1],[2.3,.45],[2.55,-.2],[2.6,-.6],[2.2,-.85],[1.5,-.85],[1,-.6],[.6,-.1]] },
  { op: .4, blur: 3, pts: [[.22,.1],[.3,.34],[.45,.32],[.6,.05],[.5,-.14],[.3,-.12]] },
  { op: .45, blur: 3, pts: [[.64,.25],[1,.82],[1.42,1.14],[1.75,.95],[2.2,.4],[2.42,-.3],[2.15,-.68],[1.5,-.75],[1,-.45],[.66,-.05]] },
  { op: 1, blur: 1.2, pts: [[.27,.07],[.33,.21],[.42,.2],[.53,.02],[.47,-.08],[.33,-.06]] },
  { op: 1, blur: 1.2, pts: [[.67,.23],[.8,.48],[1,.73],[1.19,.9],[1.41,1.02],[1.63,.94],[1.87,.6],[2.12,.27],[2.26,-.07],[2.31,-.32],[2.07,-.57],[1.78,-.65],[1.48,-.65],[1.19,-.5],[.95,-.28],[.7,.02]] },
  { op: .9, blur: .5, straight: true, pts: [[.83,1.04],[1.08,.86],[1.02,.79]] }
];

var bandsH = [
  { op: .02, blur: 10, pts: [[.25,.3],[.35,2],[.8,2.9],[1.5,3.3],[2.2,3.2],[2.9,2.4],[3.6,1.8],[4.6,1],[5.5,.1],[5.5,-3.8],[5,-4.2],[4.2,-3.4],[3.5,-2.9],[2.8,-2.75],[2,-2],[1.3,-1.2],[.7,-.5],[.25,-.05]] },
  { op: .05, blur: 8, pts: [[.25,.25],[.45,.9],[.9,1.4],[1.4,2.3],[2,2.9],[2.6,2.3],[3.1,1.3],[3.9,1],[4.6,.5],[5.5,-.2],[5.5,-2.6],[4.8,-2.8],[4,-2.6],[3.2,-2.3],[2.6,-2.15],[2.3,-2.02],[1.7,-1.5],[1,-.7],[.5,-.25],[.25,-.02]] },
  { op: .07, blur: 8, pts: [[3,.6],[3.4,.6],[4.2,.35],[5,-.2],[5.5,-.7],[5.5,-2],[4.8,-2.2],[4,-2],[3.2,-1.9],[2.6,-1.9],[2.7,-.5]] },
  { op: .1, blur: 9, pts: [[3,.3],[3.6,.1],[4.4,-.1],[5.2,-.6],[5.38,-1.2],[4.9,-1.7],[4,-1.55],[3.2,-1.6],[2.7,-1.5],[2.8,-.4]] },
  { op: .25, blur: 5, pts: [[.27,.18],[.5,.38],[.8,.55],[1.05,.85],[1.3,1.3],[1.6,1.9],[2,2.1],[2.5,1.8],[2.85,1.1],[3,.45],[3.3,-.1],[3.7,-.7],[3.75,-1.15],[3.2,-1.6],[2.7,-1.75],[2.5,-2.05],[2.2,-2],[1.5,-1.25],[.8,-.4],[.3,-.05]] },
  { op: .45, blur: 3.5, pts: [[.27,.14],[.5,.3],[.8,.44],[1.05,.66],[1.3,1.05],[1.6,1.6],[2,1.8],[2.5,1.5],[2.75,.95],[2.95,.25],[3.2,-.2],[3.45,-.7],[3.5,-1.1],[3.1,-1.45],[2.7,-1.55],[2.5,-1.95],[2.2,-1.95],[1.5,-1.15],[.8,-.35],[.3,-.03]] },
  { op: 1, blur: 1.2, pts: [[.27,.09],[.51,.22],[.8,.34],[1.05,.51],[1.24,.72],[1.49,1.14],[1.73,1.47],[1.97,1.62],[2.26,1.52],[2.51,1.22],[2.65,.8],[2.85,.18],[3.09,-.28],[3.31,-.7],[3.34,-1.04],[3.14,-1.33],[2.85,-1.42],[2.6,-1.58],[2.46,-1.88],[2.26,-1.88],[1.87,-1.5],[1.49,-1.08],[1.1,-.54],[.8,-.28],[.56,-.1],[.32,-.02]] },
  { op: .12, blur: .6, straight: true, pts: [[1.95,-1.98],[2.85,-2.77],[2.85,-2.74],[1.98,-1.95]] },
  { op: .2, blur: .6, straight: true, pts: [[.95,.9],[1.2,.72],[1.18,.68]] }
];

var rhoLabels = { B: "-0.261", E: "-0.348", H: "-0.368" };

var svg = d3.select("#chart");
var colLeft = [57.5, 501.7, 945.3];
var rowTop = [37, 478, 919.3];
var pw = 377, ph = 358.5;
var fontSize = 12.3;

var defs = svg.append("defs");
var soft = defs.append("filter").attr("id", "soft").attr("filterUnits", "userSpaceOnUse")
  .attr("x", 0).attr("y", 0).attr("width", 1329).attr("height", 1316);
soft.append("feGaussianBlur").attr("stdDeviation", 0.45);

// speckle for the scatter clouds, the originals are many faint single points
var grain = defs.append("filter").attr("id", "grain").attr("filterUnits", "userSpaceOnUse")
  .attr("x", 0).attr("y", 0).attr("width", 1329).attr("height", 1316)
  .attr("color-interpolation-filters", "sRGB");
grain.append("feTurbulence").attr("type", "fractalNoise").attr("baseFrequency", 0.7).attr("numOctaves", 2).attr("seed", 3).attr("result", "n");
grain.append("feColorMatrix").attr("in", "n").attr("type", "matrix")
  .attr("values", "0 0 0 0 0 0 0 0 0 0 0 0 0 0 0 1 0 0 0 0").attr("result", "na");
grain.append("feComposite").attr("in", "SourceGraphic").attr("in2", "na").attr("operator", "arithmetic")
  .attr("k1", 1.1).attr("k2", 0.45).attr("k3", 0).attr("k4", 0).attr("result", "c");
grain.append("feGaussianBlur").attr("in", "c").attr("stdDeviation", 0.6);

function blurId(b) {
  var id = "blur" + String(b).replace(".", "_");
  if (defs.select("#" + id).empty()) {
    defs.append("filter").attr("id", id)
      .attr("x", "-50%").attr("y", "-50%").attr("width", "200%").attr("height", "200%")
      .append("feGaussianBlur").attr("stdDeviation", b);
  }
  return id;
}

var root = svg.append("g").attr("filter", "url(#soft)");

function frame(letter, col, row, xDomain, yDomain) {
  var left = colLeft[col], top = rowTop[row];
  var x = d3.scaleLinear().domain(xDomain).range([left, left + pw]);
  var y = d3.scaleLinear().domain(yDomain).range([top + ph, top]);
  var g = root.append("g").attr("class", "panel-" + letter);
  var clipId = "clip" + letter;
  defs.append("clipPath").attr("id", clipId).append("rect")
    .attr("x", left).attr("y", top).attr("width", pw).attr("height", ph);
  var plot = g.append("g").attr("clip-path", "url(#" + clipId + ")");
  return { x: x, y: y, g: g, plot: plot, left: left, top: top };
}

function finish(p, letter, xTicks, yTicks, yFormat, xLabel, yLabel, yLabelX) {
  var xAxis = d3.axisBottom(p.x).tickValues(xTicks).tickSizeOuter(0).tickSize(4.5).tickPadding(4).tickFormat(d3.format("d"));
  var yAxis = d3.axisLeft(p.y).tickValues(yTicks).tickSizeOuter(0).tickSize(4.5).tickPadding(4.5).tickFormat(d3.format(yFormat));
  var gx = p.g.append("g").attr("transform", "translate(0," + (p.top + ph) + ")").call(xAxis);
  var gy = p.g.append("g").attr("transform", "translate(" + p.left + ",0)").call(yAxis);
  [gx, gy].forEach(function (a) {
    a.select(".domain").remove();
    a.selectAll("line").attr("stroke", "#333");
    a.selectAll("text").attr("font-size", fontSize).attr("fill", "#2a2a2a");
  });
  p.g.append("rect").attr("x", p.left).attr("y", p.top).attr("width", pw).attr("height", ph)
    .attr("fill", "none").attr("stroke", "#333").attr("stroke-width", 1);
  p.g.append("text").attr("x", p.left + pw / 2).attr("y", p.top + ph + 35)
    .attr("text-anchor", "middle").attr("font-size", fontSize).text(xLabel);
  p.g.append("text").attr("transform", "translate(" + yLabelX + "," + (p.top + ph / 2) + ") rotate(-90)")
    .attr("text-anchor", "middle").attr("font-size", fontSize).text(yLabel);
  p.g.append("text").attr("x", p.left).attr("y", p.top - 8)
    .attr("font-size", 23).style("fill", "#111").text(letter);
}

function kdePanel(letter, col, row, xDomain, yDomain, curves, xTicks, yTicks, yFormat, xLabel, yLabelX, vline) {
  var p = frame(letter, col, row, xDomain, yDomain);
  var line = d3.line().x(function (d) { return p.x(d[0]); }).y(function (d) { return p.y(d[1]); }).curve(d3.curveMonotoneX);
  p.plot.selectAll("path.kde").data(curves).enter().append("path").attr("class", "kde")
    .attr("d", line).attr("fill", "none")
    .attr("stroke", function (d, i) { return tab10[i % 10]; })
    .attr("stroke-width", 1).attr("stroke-opacity", 0.52);
  // all curves run on along zero out to the axis limits, the last one stays on top
  p.plot.append("path").attr("d", line([[xDomain[0], 0], [xDomain[1], 0]]))
    .attr("fill", "none").attr("stroke", "#c8453f").attr("stroke-width", 1.1).attr("stroke-opacity", 0.85);
  if (vline !== null) {
    p.plot.append("line").attr("x1", p.x(vline)).attr("x2", p.x(vline))
      .attr("y1", p.top).attr("y2", p.top + ph)
      .attr("stroke", "#2f6ea8").attr("stroke-width", 1.3).attr("stroke-opacity", 0.85);
  }
  finish(p, letter, xTicks, yTicks, yFormat, xLabel, "KDE", yLabelX);
}

function scatterPanel(letter, col, row, bands, xCut) {
  var p = frame(letter, col, row, [0, 5.5], [-5, 4]);
  var cutId = "cut" + letter;
  defs.append("clipPath").attr("id", cutId).append("rect")
    .attr("x", p.x(xCut[0])).attr("y", p.top).attr("width", p.x(xCut[1]) - p.x(xCut[0])).attr("height", ph);
  var area = p.plot.append("g").attr("clip-path", "url(#" + cutId + ")");
  var cloud = area.append("g").attr("filter", "url(#grain)");
  var round = d3.line().x(function (d) { return p.x(d[0]); }).y(function (d) { return p.y(d[1]); }).curve(d3.curveCatmullRomClosed.alpha(0.5));
  var sharp = d3.line().x(function (d) { return p.x(d[0]); }).y(function (d) { return p.y(d[1]); }).curve(d3.curveLinearClosed);
  bands.forEach(function (b) {
    // solid core goes over the speckle so it stays black
    (b.op >= 0.9 ? area : cloud).append("path").attr("d", (b.straight ? sharp : round)(b.pts))
      .attr("fill", "#000").attr("fill-opacity", b.op)
      .attr("filter", "url(#" + blurId(b.blur) + ")");
  });
  p.plot.append("text").attr("x", p.x(0.5)).attr("y", p.y(-3.87)).attr("font-size", fontSize).text("Spearman's rho = " + rhoLabels[letter]);
  p.plot.append("text").attr("x", p.x(0.5)).attr("y", p.y(-4.35)).attr("font-size", fontSize).text("p < 0.001");
  finish(p, letter, t1Ticks, scatterYTicks, "d", "pre-contrast T\u2081 (units: s)", "\u0394T\u2081 (units: s)", 465);
}

var deltaLabel = "\u0394T\u2081 (units: s)";
var t1Label = "pre-contrast T\u2081 (units: s)";

kdePanel("A", 0, 0, [-5, 4], [-0.223, 4.62], curvesA, deltaTicks, kdeTicksA, "d", deltaLabel, 30, -0.11);
scatterPanel("B", 1, 0, bandsB, [1.3, 5.4]);
kdePanel("C", 2, 0, [0, 5.5], [-0.243, 5.03], curvesC, t1Ticks, kdeTicksC, "d", t1Label, 918, null);
kdePanel("D", 0, 1, [-5, 4], [-0.287, 5.876], curvesD, deltaTicks, kdeTicksD, "d", deltaLabel, 30, 0);
scatterPanel("E", 1, 1, bandsE, [0.2, 5.38]);
kdePanel("F", 2, 1, [0, 5.5], [-0.195, 4.0], curvesF, t1Ticks, kdeTicksF, ".1f", t1Label, 906, null);
kdePanel("G", 0, 2, [-5, 4], [-0.175, 3.64], curvesG, deltaTicks, kdeTicksG, ".1f", deltaLabel, 18, -0.1);
scatterPanel("H", 1, 2, bandsH, [0.2, 5.38]);
kdePanel("I", 2, 2, [0, 5.5], [-0.093, 1.943], curvesI, t1Ticks, kdeTicksI, ".2f", t1Label, 896, null);
</script>
</body>
</html>
